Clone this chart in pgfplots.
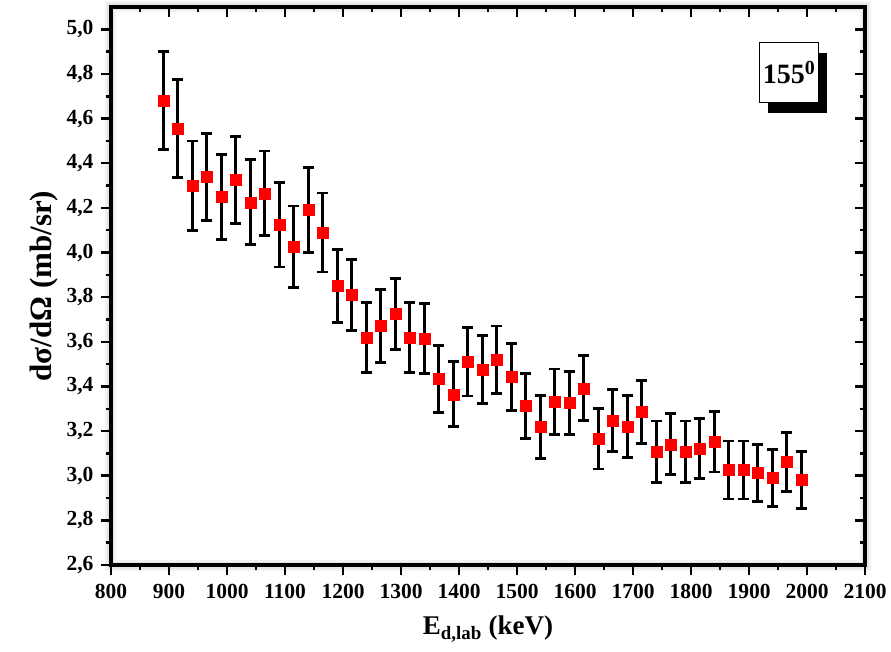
\documentclass[border=0pt]{standalone}
\usepackage{pgfplots}
\pgfplotsset{compat=1.18}
\usepackage{fontspec}
\setmainfont{Liberation Serif}
\usetikzlibrary{shadows}

\pgfplotstableread{
x     y      e
890   4.680  0.220
915   4.555  0.220
940   4.300  0.200
965   4.340  0.195
990   4.250  0.190
1015  4.325  0.195
1040  4.225  0.190
1065  4.265  0.190
1090  4.125  0.190
1115  4.025  0.183
1140  4.190  0.190
1165  4.090  0.177
1190  3.850  0.165
1215  3.810  0.160
1240  3.620  0.157
1265  3.670  0.163
1290  3.725  0.160
1315  3.620  0.157
1340  3.615  0.157
1365  3.435  0.150
1390  3.365  0.146
1415  3.510  0.153
1440  3.475  0.153
1465  3.520  0.151
1490  3.443  0.149
1515  3.313  0.145
1540  3.218  0.140
1565  3.332  0.146
1590  3.325  0.142
1615  3.392  0.145
1640  3.165  0.135
1665  3.246  0.139
1690  3.220  0.140
1715  3.286  0.142
1740  3.108  0.137
1765  3.141  0.137
1790  3.108  0.137
1815  3.122  0.135
1840  3.153  0.136
1865  3.026  0.130
1890  3.026  0.130
1915  3.013  0.128
1940  2.990  0.128
1965  3.062  0.131
1990  2.981  0.127
}\crosssection

\pgfplotsset{
  common/.style={
    scale only axis,
    width=754pt, height=558pt,
    xmin=800, xmax=2100, ymin=2.6, ymax=5.1,
    xtick={800,900,...,2100},
    ytick={2.6,2.8,...,5.01},
    minor tick num=1,
    major tick length=10pt,
    minor tick length=5pt,
    every tick/.style={black, line width=2.5pt},
    /pgf/number format/assume math mode=true,
  }
}

\begin{document}
\begin{tikzpicture}
\useasboundingbox (-111pt,-86pt) rectangle (780pt,565pt);
% soft halo round the frame
\draw[line width=11pt, black!5] (0,0) rectangle (754pt,558pt);
\draw[line width=7pt, black!10] (0,0) rectangle (754pt,558pt);

\begin{axis}[
  common,
  tick align=outside,
  xtick pos=left, ytick pos=left,
  axis line style={line width=3.5pt, line cap=rect},
  ticklabel style={font=\bfseries\fontsize{21.5}{21.5}\selectfont},
  xticklabel style={yshift=-6pt, /pgf/number format/1000 sep={}},
  yticklabel style={xshift=-4pt, /pgf/number format/use comma,
    /pgf/number format/fixed, /pgf/number format/fixed zerofill,
    /pgf/number format/precision=1},
  xlabel={E\textsubscript{d,lab} (keV)},
  ylabel={dσ/dΩ (mb/sr)},
  xlabel style={font=\bfseries\fontsize{27}{27}\selectfont, yshift=-10pt},
  ylabel style={font=\bfseries\fontsize{31}{31}\selectfont, yshift=2pt},
]
\addplot[
  only marks,
  mark=square*,
  mark size=5.5pt,
  mark options={fill=red, draw=red},
  error bars/.cd,
    y dir=both, y explicit,
    error bar style={line width=2.8pt, black},
    error mark options={rotate=90, mark size=5.5pt, line width=2.8pt, black},
] table[x=x, y=y, y error=e] {\crosssection};

\node[draw=black, line width=0.8pt, fill=white,
      minimum width=59pt, minimum height=60pt, inner sep=0pt,
      general shadow={fill=black, shadow xshift=9pt, shadow yshift=-10pt},
      font=\bfseries\fontsize{28}{28}\selectfont]
  at (rel axis cs:0.899,0.882) {155\raisebox{9pt}{\fontsize{20}{20}\selectfont 0}};
\end{axis}

\begin{axis}[
  common,
  tick align=inside,
  xtick pos=right, ytick pos=right,
  axis line style={draw=none},
  xticklabels={}, yticklabels={},
]
\end{axis}
\end{tikzpicture}
\end{document}
